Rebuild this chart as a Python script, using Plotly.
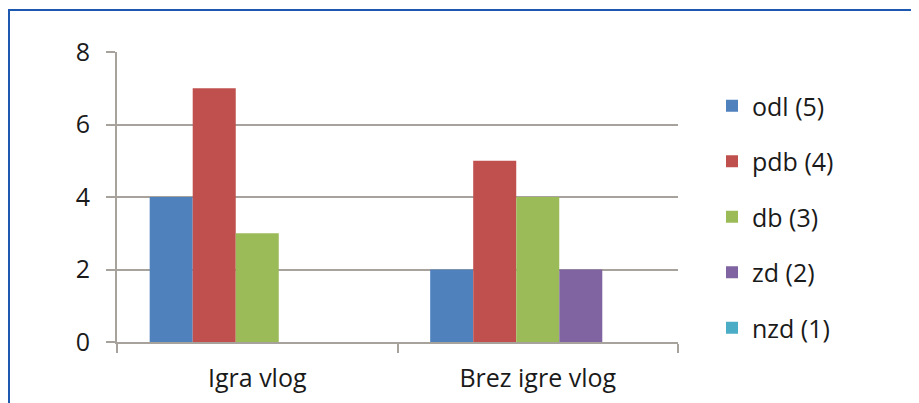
import plotly.graph_objects as go

categories = ["Igra vlog", "Brez igre vlog"]
series_names = ["odl (5)", "pdb (4)", "db (3)", "zd (2)", "nzd (1)"]
odl = [4, 2]
pdb = [7, 5]
db = [3, 4]
zd = [0, 2]
nzd = [0, 0]
series_values = [odl, pdb, db, zd, nzd]
colors = ["#4F81BD", "#C0504D", "#9BBB59", "#8064A2", "#4BACC6"]
y_ticks = [0, 2, 4, 6, 8]

# page body has an 8px margin: figure origin sits at (8, 8) in the window
OFF = 8
W, H = 919 - OFF, 403 - OFF
PL, PR, PT, PB = 117 - OFF, 678 - OFF, 52 - OFF, 342 - OFF
ML, MR, MT, MB = PL, W - PR, PT, H - PB
pw = PR - PL
ph = PB - PT

fig = go.Figure()
for i, (name, vals) in enumerate(zip(series_names, series_values)):
    fig.add_trace(go.Bar(
        x=categories, y=vals, name=name, marker_color=colors[i],
        marker_line_width=0, legendgroup=f"g{i}",
    ))

font = "Open Sans, Calibri, Carlito, sans-serif"
axis_col = "#A8A29D"
fig.update_layout(
    width=W, height=H, autosize=False,
    margin=dict(l=ML, r=MR, t=MT, b=MB, pad=0, autoexpand=False),
    paper_bgcolor="white", plot_bgcolor="white",
    barmode="group", bargap=0.233, bargroupgap=0,
    font=dict(family=font, size=25, color="#1a1a1a"),
    showlegend=True,
    legend=dict(
        x=(712 - OFF - PL) / pw, xanchor="left",
        y=(PB - (83 - OFF)) / ph, yanchor="top",
        tracegroupgap=20, font=dict(size=25, family=font),
        bgcolor="rgba(0,0,0,0)", itemclick=False,
    ),
    xaxis=dict(
        showline=True, linecolor=axis_col, linewidth=2,
        ticks="outside", tickson="boundaries", ticklen=9,
        tickcolor=axis_col, tickwidth=2, showgrid=False, automargin=False,
        tickfont=dict(size=25), ticklabelstandoff=13, fixedrange=True,
    ),
    yaxis=dict(
        range=[0, 8], tickvals=y_ticks, showline=True,
        linecolor=axis_col, linewidth=2, ticks="outside", ticklen=9,
        tickcolor=axis_col, tickwidth=2, showgrid=True, automargin=False,
        gridcolor=axis_col, gridwidth=2, zeroline=False,
        tickfont=dict(size=25), ticklabelstandoff=11, fixedrange=True,
    ),
    shapes=[dict(
        type="rect", xref="paper", yref="paper",
        x0=(9 - OFF - PL) / pw, x1=(940 - OFF - PL) / pw,
        y0=(PB - (430 - OFF)) / ph, y1=(PB - (10 - OFF)) / ph,
        line=dict(color="#1F58B0", width=2), fillcolor="rgba(0,0,0,0)",
        layer="above",
    )],
)

fig.write_html("out.html", config=dict(displayModeBar=False))
